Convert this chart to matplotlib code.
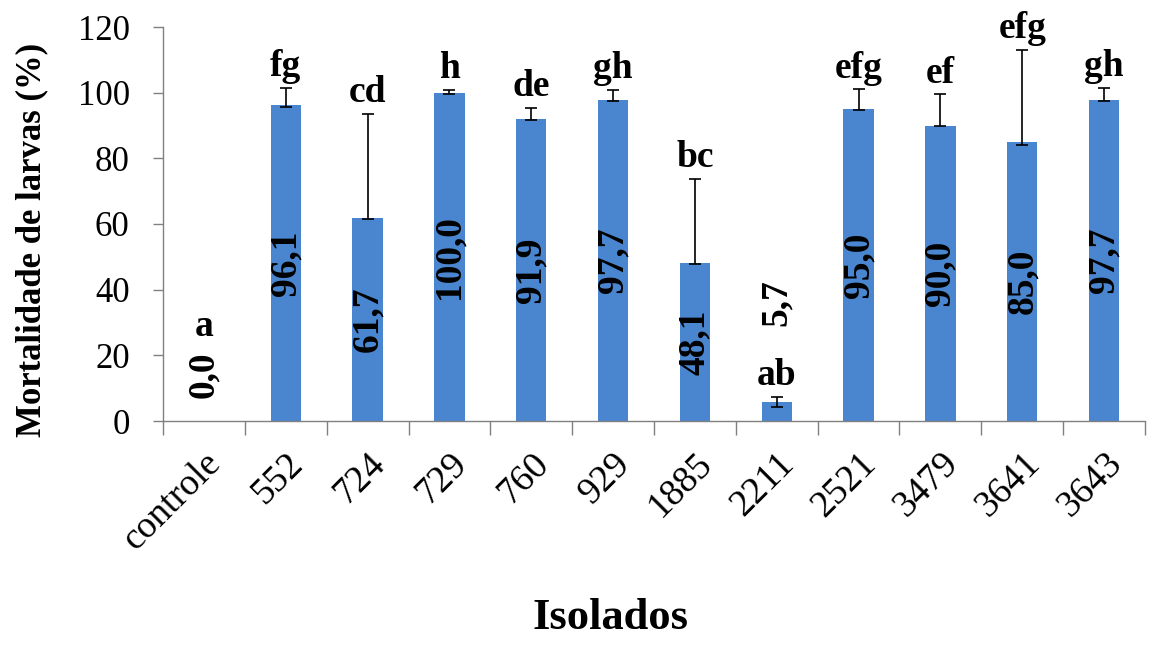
import matplotlib
matplotlib.use("Agg")
import matplotlib.pyplot as plt
import numpy as np

# Larval mortality per isolate
isolados = ["controle", "552", "724", "729", "760", "929", "1885",
            "2211", "2521", "3479", "3641", "3643"]
mortalidade = [0.0, 96.1, 61.7, 100.0, 91.9, 97.7, 48.1,
               5.7, 95.0, 90.0, 85.0, 97.7]
erro_sup = [0.0, 5.3, 31.8, 0.8, 3.4, 3.1, 25.7,
            1.6, 6.0, 9.5, 28.0, 3.8]
erro_inf = [0.0, 0.4, 0.3, 0.4, 0.3, 0.3, 0.3,
            1.4, 0.3, 0.3, 0.9, 0.3]
letras = ["a", "fg", "cd", "h", "de", "gh", "bc",
          "ab", "efg", "ef", "efg", "gh"]
yticks = [0, 20, 40, 60, 80, 100, 120]

plt.rcParams["font.family"] = ["Liberation Serif", "DejaVu Serif"]

fig = plt.figure(figsize=(11.52, 6.59), dpi=100)
ax = fig.add_axes([163 / 1152, 1 - 421 / 659, (1145 - 163) / 1152, (421 - 27) / 659])

x = np.arange(len(isolados))
cor = "#4a86cf"
ax.bar(x, mortalidade, width=0.37, color=cor, zorder=2)

# error bars only where the bar has a spread
com_erro = [i for i, e in enumerate(erro_sup) if e > 0]
ax.errorbar([x[i] for i in com_erro], [mortalidade[i] for i in com_erro],
            yerr=[[erro_inf[i] for i in com_erro], [erro_sup[i] for i in com_erro]],
            fmt="none", ecolor="black", elinewidth=1.2, capsize=4.5,
            capthick=1.2, zorder=3)

def fmt(v):
    return f"{v:.1f}".replace(".", ",")

VAL_FS = 27
LET_FS = 27

for i, (v, e, l) in enumerate(zip(mortalidade, erro_sup, letras)):
    topo = v + e
    if v >= 20:
        # value written inside the bar, letter above the error bar
        ax.text(i, v / 2, fmt(v), rotation=90, ha="center", va="center",
                fontsize=VAL_FS, fontweight="bold", zorder=4)
        ax.annotate(l, (i, topo), xytext=(0, 8.5), textcoords="offset points",
                    ha="center", va="baseline", fontsize=LET_FS, fontweight="bold")
    elif v == 0:
        # empty bar: value first, letter stacked above it
        ax.text(i, topo + 7, fmt(v), rotation=90, ha="center", va="bottom",
                fontsize=VAL_FS, fontweight="bold")
        ax.text(i, topo + 26, l, ha="center", va="baseline",
                fontsize=LET_FS, fontweight="bold")
    else:
        # short bar: letter above the error bar, value stacked above it
        ax.annotate(l, (i, topo), xytext=(0, 8.5), textcoords="offset points",
                    ha="center", va="baseline", fontsize=LET_FS, fontweight="bold")
        ax.text(i, topo + 21.5, fmt(v), rotation=90, ha="center", va="bottom",
                fontsize=VAL_FS, fontweight="bold")

ax.set_xlim(-0.5, len(isolados) - 0.5)
ax.set_ylim(0, 120)
ax.set_yticks(yticks)
ax.set_yticklabels([str(t) for t in yticks], fontsize=25)
ax.tick_params(axis="y", length=7, width=1, color="#808080", pad=17)

# category boundaries carry the tick marks; labels sit at the centres
ax.set_xticks(np.arange(len(isolados) + 1) - 0.5)
ax.set_xticklabels([])
ax.tick_params(axis="x", length=10, width=1, color="#808080")
ax.set_xticks(x, minor=True)
ax.set_xticklabels(isolados, minor=True, rotation=45, ha="right", va="top",
                   rotation_mode="anchor", fontsize=27)
ax.tick_params(axis="x", which="minor", length=0, pad=18)

for s in ["top", "right"]:
    ax.spines[s].set_visible(False)
for s in ["left", "bottom"]:
    ax.spines[s].set_color("#808080")
    ax.spines[s].set_linewidth(1)

fig.text(32 / 1152, 1 - 240 / 659, "Mortalidade de larvas (%)", rotation=90,
         ha="center", va="center", fontsize=25, fontweight="bold")
fig.text(611 / 1152, 1 - 618 / 659, "Isolados", ha="center", va="center",
         fontsize=32, fontweight="bold")

fig.savefig("out.png", dpi=100)
